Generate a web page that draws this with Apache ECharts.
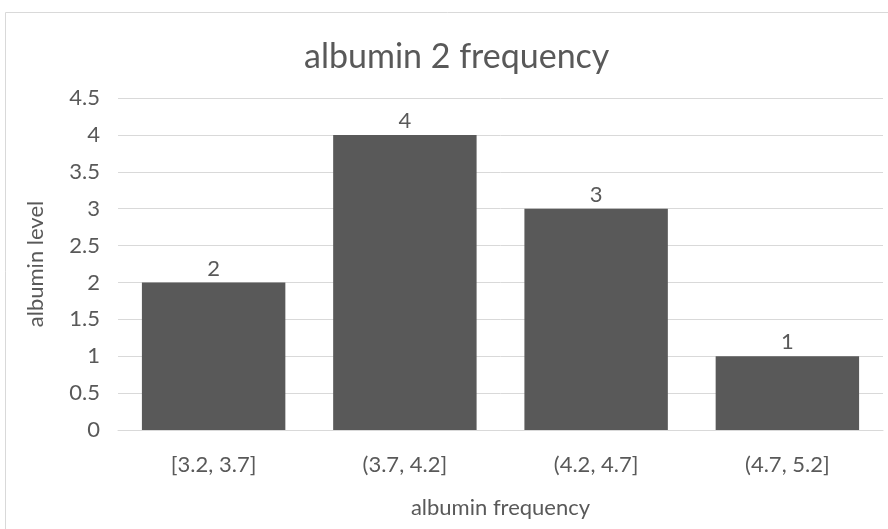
<!DOCTYPE html>
<html><head><meta charset="utf-8">
<script src="https://cdn.jsdelivr.net/npm/echarts@6/dist/echarts.min.js"></script>
<style>html,body{margin:0;padding:0;background:#fff}#c{width:888px;height:529px}</style>
</head><body><div id="c"></div>
<script>
const categories = ['[3.2, 3.7]', '(3.7, 4.2]', '(4.2, 4.7]', '(4.7, 5.2]'];
const values = [2, 4, 3, 1];
const titleText = 'albumin 2 frequency';
const xName = 'albumin frequency';
const yName = 'albumin level';
const font = 'Lato';
const chart = echarts.init(document.getElementById('c'));
chart.setOption({
  backgroundColor: '#fff',
  graphic: [{type:'rect', shape:{x:5.5,y:12.5,width:890,height:530}, style:{fill:'none', stroke:'#d9d9d9', lineWidth:1}, silent:true}],
  title: {text: titleText, left: 299, top: 35, textStyle: {fontFamily: font, fontSize: 34, fontWeight: 'normal', color: '#595959'}},
  grid: {left: 118, right: 5, top: 98, bottom: 99},
  xAxis: {type: 'category', data: categories, name: xName, nameLocation: 'middle', nameGap: 67,
    nameTextStyle: {fontFamily: font, fontSize: 22, color: '#595959'},
    axisLine: {lineStyle: {color: '#d9d9d9'}}, axisTick: {show: false},
    axisLabel: {fontFamily: font, fontSize: 22, color: '#595959', margin: 24}},
  yAxis: {type: 'value', min: 0, max: 4.5, interval: 0.5, name: yName, nameLocation: 'middle', nameGap: 71,
    nameTextStyle: {fontFamily: font, fontSize: 22, color: '#595959'},
    axisLine: {show: false}, axisTick: {show: false},
    splitLine: {lineStyle: {color: '#d9d9d9', width: 1}},
    axisLabel: {fontFamily: font, fontSize: 22, color: '#595959', margin: 18}},
  series: [{type: 'bar', data: values, barCategoryGap: '25%', itemStyle: {color: '#595959'},
    label: {show: true, position: 'top', distance: 3, fontFamily: font, fontSize: 22, color: '#595959'}}]
});
</script></body></html>
